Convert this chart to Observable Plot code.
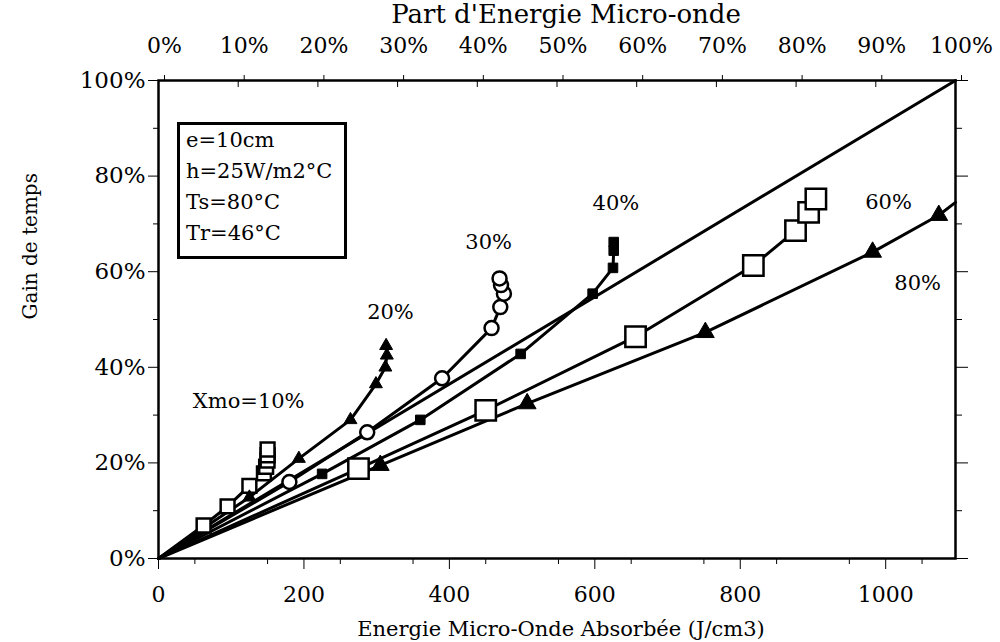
<!DOCTYPE html>
<html>
<head>
<meta charset="utf-8">
<script src="https://cdn.jsdelivr.net/npm/d3@7"></script>
<script src="https://cdn.jsdelivr.net/npm/@observablehq/plot@0.6"></script>
<style>
  body { margin: 0; background: #fff; }
  #wrap { position: relative; width: 1000px; height: 642px; }
  #legend {
    position: absolute; left: 177px; top: 123px; width: 158px; height: 131px;
    border: 3px solid #000; background: #fff;
    font-family: "DejaVu Serif", serif; font-size: 21px; line-height: 31px;
    padding: 0 0 0 6px; box-sizing: content-box; margin-top: -1px;
  }
  #legend div { white-space: nowrap; }
</style>
</head>
<body>
<div id="wrap"></div>
<script>
// ---- data ----
const XMAX = 1096;                                   // right edge of the energy axis (J/cm3)
const xMajorTicks = [0, 200, 400, 600, 800, 1000];
const yMajorTicks = [0, 20, 40, 60, 80, 100];
const topPctTicks = [0, 10, 20, 30, 40, 50, 60, 70, 80, 90, 100];
const legendLines = ["e=10cm", "h=25W/m2°C", "Ts=80°C", "Tr=46°C"];

const origin = [0, 0];
const refLine = [[0, 0], [XMAX, 100]];               // 100 % micro-onde line

const s10 = [[62, 6.9], [95, 10.9], [125, 15.2], [145, 17.8], [148, 19.2], [150, 20.5], [150, 21.6], [150, 22.8]];
const s20 = [[125, 12.8], [193, 20.9], [264, 29.0], [299, 36.5], [312, 40.0], [314, 42.5], [313, 44.5]];
const s30 = [[180, 16.0], [287, 26.4], [390, 37.7], [458, 48.2], [470, 52.6], [475, 55.4], [471, 57.2], [469, 58.6]];
const s40 = [[225, 17.7], [360, 29.0], [498, 42.8], [597, 55.4], [625, 60.8], [626, 64.4], [626, 66.2]];
const s60 = [[275, 18.8], [450, 31.0], [656, 46.4], [818, 61.3], [876, 68.6], [894, 72.4], [904, 75.2]];
const s80 = [[305, 19.5], [507, 32.4], [752, 47.3], [982, 64.1], [1073, 71.8]];
const s80Tail = [[1096, 74.5]];

const annotations = [
  {x: 124, y: 32.8, text: "Xmo=10%"},
  {x: 319, y: 51.5, text: "20%"},
  {x: 454, y: 66.1, text: "30%"},
  {x: 629, y: 74.3, text: "40%"},
  {x: 1004, y: 74.5, text: "60%"},
  {x: 1044, y: 57.5, text: "80%"}
];

// ---- chart ----
const lineOpts = {x: d => d[0], y: d => d[1], stroke: "black", strokeWidth: 3, curve: "linear"};
const dotBase = {x: d => d[0], y: d => d[1], stroke: "black", strokeWidth: 2.5};

const chart = Plot.plot({
  width: 1000,
  height: 642,
  marginLeft: 158,
  marginRight: 45,
  marginTop: 80,
  marginBottom: 84,
  style: {fontFamily: "DejaVu Serif, serif", fontSize: "21px", background: "white", color: "black"},
  x: {domain: [0, XMAX]},
  y: {domain: [0, 100]},
  marks: [
    // bottom axis
    Plot.axisX({anchor: "bottom", ticks: xMajorTicks, tickSize: 11, tickPadding: 17, tickFormat: d => String(d), tickWidth: 2.5, label: null, fontSize: 22}),
    Plot.axisX({anchor: "bottom", ticks: d3.range(50, XMAX, 100), tickSize: 6, tickFormat: () => "", tickWidth: 2.5, label: null}),
    // top axis (share of micro-wave energy)
    Plot.axisX({anchor: "top", ticks: topPctTicks.map(p => p / 100 * XMAX), tickSize: 6, tickPadding: 22,
      tickFormat: d => Math.round(d / XMAX * 100) + "%", tickWidth: 2.5, label: null, fontSize: 22, dx: 6}),
    Plot.axisX({anchor: "top", ticks: topPctTicks.map(p => p / 100 * XMAX), tickSize: -6, tickFormat: () => "", tickWidth: 2.5, label: null}),
    // left axis
    Plot.axisY({anchor: "left", ticks: yMajorTicks, tickSize: 10, tickPadding: 3, tickFormat: d => d + "%", tickWidth: 2.5, label: null, fontSize: 23}),
    Plot.axisY({anchor: "left", ticks: d3.range(10, 100, 20), tickSize: 5, tickFormat: () => "", tickWidth: 2.5, label: null}),
    // right axis
    Plot.axisY({anchor: "right", ticks: yMajorTicks, tickSize: 12, tickFormat: () => "", tickWidth: 2.5, label: null}),
    Plot.axisY({anchor: "right", ticks: d3.range(10, 100, 20), tickSize: 6, tickFormat: () => "", tickWidth: 2.5, label: null}),
    Plot.frame({stroke: "black", strokeWidth: 2.5}),

    // titles
    Plot.text(["Part d'Energie Micro-onde"], {frameAnchor: "top", lineAnchor: "middle", dx: 9, dy: -66, fontSize: 26}),
    Plot.text(["Energie Micro-Onde Absorbée (J/cm3)"], {frameAnchor: "bottom", lineAnchor: "middle", dx: 4, dy: 71, fontSize: 21}),
    Plot.text(["Gain de temps"], {frameAnchor: "left", dx: -128, rotate: -90, fontSize: 20}),

    // reference line and series lines
    Plot.line(refLine, lineOpts),
    Plot.line([origin, ...s10], lineOpts),
    Plot.line([origin, ...s20], lineOpts),
    Plot.line([origin, ...s30], lineOpts),
    Plot.line([origin, ...s40], lineOpts),
    Plot.line([origin, ...s60], lineOpts),
    Plot.line([origin, ...s80, ...s80Tail], lineOpts),

    // markers
    Plot.dot(s10, {...dotBase, symbol: "square", r: 7.8, fill: "white"}),
    Plot.dot(s20, {...dotBase, symbol: "triangle", r: 4.8, fill: "black", strokeWidth: 1}),
    Plot.dot(s30, {...dotBase, symbol: "circle", r: 7, fill: "white"}),
    Plot.dot(s40, {...dotBase, symbol: "square", r: 5.4, fill: "black", strokeWidth: 1}),
    Plot.dot(s60, {...dotBase, symbol: "square", r: 11.5, fill: "white"}),
    Plot.dot(s80, {...dotBase, symbol: "triangle", r: 6.6, fill: "black", strokeWidth: 1}),

    // series labels
    Plot.text(annotations, {x: "x", y: "y", text: "text", fontSize: 21})
  ]
});

const wrap = document.getElementById("wrap");
wrap.appendChild(chart);
const legend = document.createElement("div");
legend.id = "legend";
legendLines.forEach(t => { const d = document.createElement("div"); d.textContent = t; legend.appendChild(d); });
wrap.appendChild(legend);
</script>
</body>
</html>
